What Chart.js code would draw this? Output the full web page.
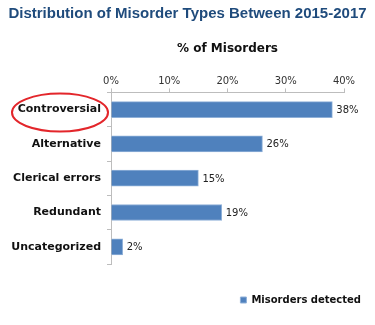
<!DOCTYPE html>
<html>
<head>
<meta charset="utf-8">
<script src="https://cdn.jsdelivr.net/npm/chart.js@4"></script>
<style>
  body { margin: 0; background: #fff; }
  #wrap { width: 375px; height: 325px; position: relative; }
</style>
</head>
<body>
<div id="wrap"><canvas id="grafica"></canvas></div>
<script>
//Datos
const categorias = ["Controversial", "Alternative", "Clerical errors", "Redundant", "Uncategorized"];
const porcentajes = [38, 26, 15, 19, 2];
const ticksX = [0, 10, 20, 30, 40];

//Etiquetas de valor a la derecha de cada barra
const etiquetas = {
  id: "etiquetas",
  afterDatasetsDraw(chart) {
    const ctx = chart.ctx;
    const meta = chart.getDatasetMeta(0);
    ctx.save();
    ctx.font = "10px 'DejaVu Sans'";
    ctx.fillStyle = "#222";
    ctx.textBaseline = "middle";
    meta.data.forEach((bar, i) => {
      ctx.fillText(porcentajes[i] + "%", bar.x + 4, bar.y + 1);
    });
    ctx.restore();
  }
};

//Ajustar título (ancho completo) y leyenda (abajo a la derecha)
const ajustes = {
  id: "ajustes",
  afterLayout(chart) {
    chart.titleBlock.right += 31;
    const l = chart.legend;
    l.left += 27; l.right += 27;
    l.top += 21; l.bottom += 21;
  }
};

//Elipse roja alrededor de la primera categoría
const elipse = {
  id: "elipse",
  afterDraw(chart) {
    const ctx = chart.ctx;
    const y = chart.scales.y.getPixelForValue(0);
    ctx.save();
    ctx.strokeStyle = "#e3262b";
    ctx.lineWidth = 2;
    ctx.beginPath();
    ctx.ellipse(60, y + 3, 48, 19, 0, 0, Math.PI * 2);
    ctx.stroke();
    ctx.restore();
  }
};

const ctx = document.getElementById("grafica").getContext("2d");
new Chart(ctx, {
  type: "bar",
  data: {
    labels: categorias,
    datasets: [{
      label: "Misorders detected",
      data: porcentajes,
      backgroundColor: "#4f81bd",
      borderColor: "#8fb0d8",
      borderWidth: 1,
      barThickness: 16
    }]
  },
  options: {
    indexAxis: "y",
    responsive: true,
    maintainAspectRatio: false,
    animation: false,
    layout: { padding: { left: 0, right: 31, top: 5, bottom: 31 } },
    scales: {
      x: {
        position: "top",
        min: 0,
        max: 40,
        afterBuildTicks: (scale) => { scale.ticks = ticksX.map(v => ({ value: v })); },
        ticks: {
          callback: (v) => v + "%",
          font: { family: "'DejaVu Sans'", size: 10 },
          color: "#333",
          padding: 1
        },
        grid: { drawOnChartArea: false, drawTicks: true, tickLength: 4, color: "#bdbdbd" },
        border: { display: true, color: "#bdbdbd" },
        title: {
          display: true,
          text: "% of Misorders",
          font: { family: "'DejaVu Sans'", size: 12, weight: "bold" },
          color: "#111",
          padding: { top: 4, bottom: 18 }
        }
      },
      y: {
        afterFit: (scale) => { scale.width = 111; },
        ticks: {
          font: { family: "'DejaVu Sans'", size: 11, weight: "bold" },
          color: "#111",
          padding: 6
        },
        grid: { drawOnChartArea: false, drawTicks: true, tickLength: 4, color: "#bdbdbd", offset: true },
        border: { display: true, color: "#bdbdbd" }
      }
    },
    plugins: {
      title: {
        display: true,
        text: "Distribution of Misorder Types Between 2015-2017",
        font: { family: "Arial, 'Liberation Sans', sans-serif", size: 15, weight: "bold" },
        color: "#1f4b7c",
        padding: { top: 0, bottom: 15 }
      },
      legend: {
        position: "bottom",
        align: "end",
        labels: {
          boxWidth: 6,
          boxHeight: 6,
          padding: 10,
          font: { family: "'DejaVu Sans'", size: 10, weight: "bold" },
          color: "#111"
        }
      },
      tooltip: { enabled: false }
    }
  },
  plugins: [etiquetas, ajustes, elipse]
});
</script>
</body>
</html>
